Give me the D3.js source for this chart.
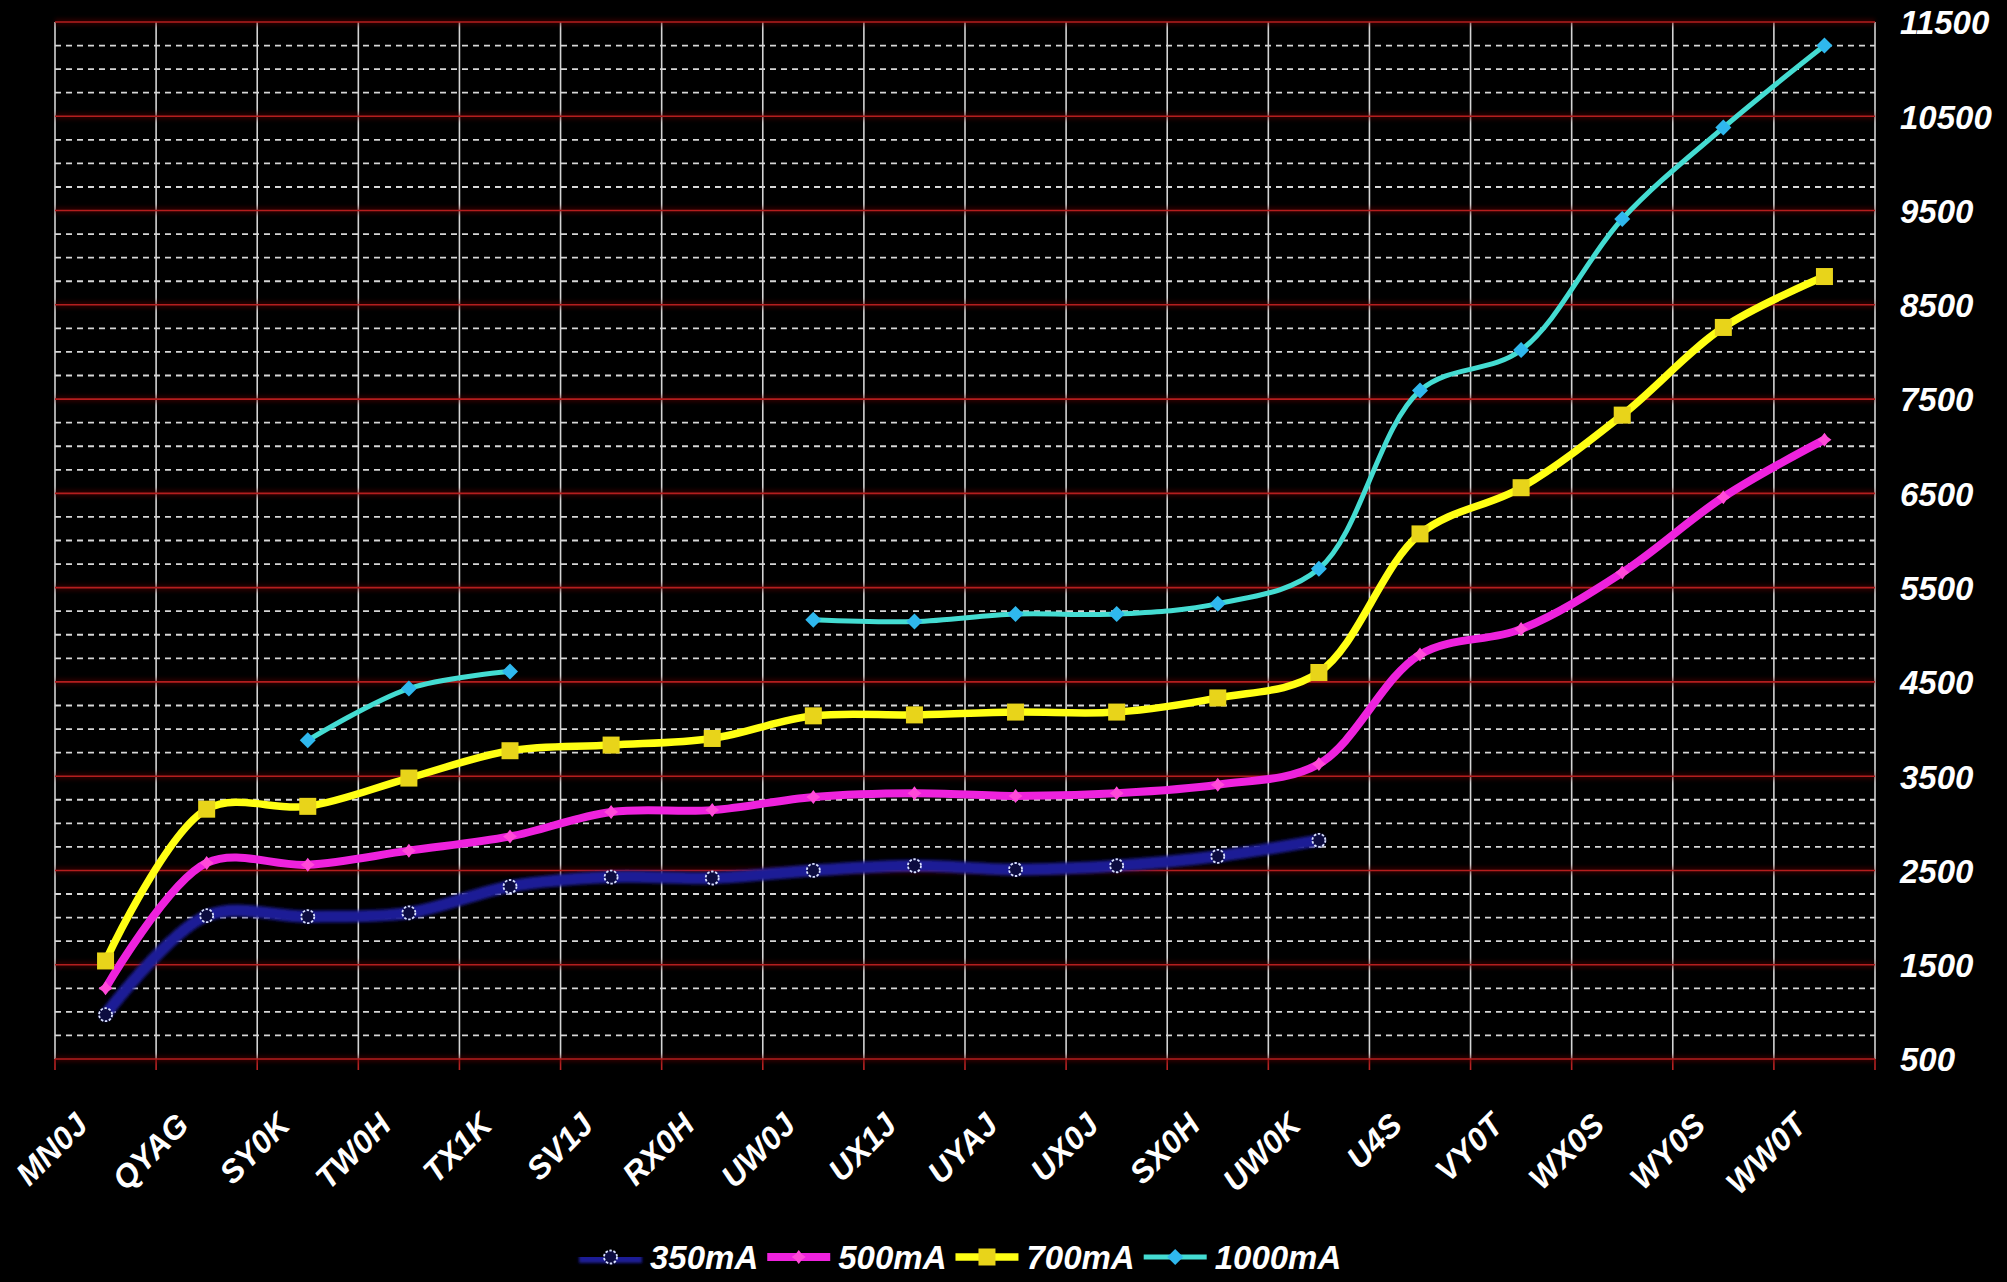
<!DOCTYPE html>
<html>
<head>
<meta charset="utf-8">
<script src="https://cdn.jsdelivr.net/npm/d3@7"></script>
<style>
  html, body { margin: 0; padding: 0; background: #000; }
  svg { display: block; }
  text { font-family: "Liberation Sans", Arial, sans-serif; font-weight: bold; font-style: italic; fill: #fff; }
</style>
</head>
<body>
<svg id="chart" width="2007" height="1282"></svg>
<script>
// Categories along the x axis
const categories = ["MN0J","QYAG","SY0K","TW0H","TX1K","SV1J","RX0H","UW0J","UX1J","UYAJ","UX0J","SX0H","UW0K","U4S","VY0T","WX0S","WY0S","WW0T"];

// Series values per category (null = no reading)
const ma350  = [970, 2020, 2010, 2050, 2330, 2430, 2420, 2500, 2550, 2510, 2550, 2650, 2820, null, null, null, null, null];
const ma500  = [1250, 2580, 2560, 2710, 2860, 3120, 3140, 3280, 3320, 3290, 3320, 3410, 3630, 4790, 5060, 5660, 6460, 7070];
const ma700  = [1540, 3150, 3180, 3480, 3770, 3830, 3900, 4140, 4150, 4180, 4180, 4330, 4600, 6070, 6560, 7330, 8260, 8800];
const ma1000 = [null, null, 3880, 4430, 4610, null, null, 5160, 5140, 5220, 5220, 5330, 5700, 7590, 8020, 9410, 10380, 11250];

const seriesNames = ["350mA", "500mA", "700mA", "1000mA"];

// Labelled y ticks and the minor dashed gridline values
const yTicks = [500, 1500, 2500, 3500, 4500, 5500, 6500, 7500, 8500, 9500, 10500, 11500];
const yMinor = d3.range(500, 11500, 250).filter(v => (v - 500) % 1000 !== 0);

const svg = d3.select("#chart");
const W = 2007, H = 1282;
svg.append("rect").attr("width", W).attr("height", H).attr("fill", "#000");

const plot = { left: 55, right: 1875, top: 22, bottom: 1059 };

const x = d3.scaleBand().domain(categories).range([plot.left, plot.right]).padding(0);
const y = d3.scaleLinear().domain([500, 11500]).range([plot.bottom, plot.top]);
const cx = c => x(c) + x.bandwidth() / 2;

// Blur filters in user space so that straight horizontal strokes are not clipped
const defs = svg.append("defs");
function blurFilter(id, sd) {
  defs.append("filter").attr("id", id)
    .attr("filterUnits", "userSpaceOnUse")
    .attr("x", 0).attr("y", 0).attr("width", W).attr("height", H)
    .append("feGaussianBlur").attr("stdDeviation", sd);
}
blurFilter("soft", 1.8);
blurFilter("halo", 2.2);

// Grid
const grid = svg.append("g");
grid.selectAll("line.minor").data(yMinor).join("line")
  .attr("class", "minor")
  .attr("x1", plot.left).attr("x2", plot.right)
  .attr("y1", d => y(d)).attr("y2", d => y(d))
  .attr("stroke", "#d6d6d6").attr("stroke-width", 1.8).attr("stroke-dasharray", "6,5");

const boundaries = categories.map(c => x(c)).concat([plot.right]);
grid.selectAll("line.vert").data(boundaries).join("line")
  .attr("class", "vert")
  .attr("x1", d => d).attr("x2", d => d)
  .attr("y1", plot.top).attr("y2", plot.bottom)
  .attr("stroke", "#d4d4d4").attr("stroke-width", 1.6);

// tick marks below the axis
grid.selectAll("line.tick").data(boundaries).join("line")
  .attr("class", "tick")
  .attr("x1", d => d).attr("x2", d => d)
  .attr("y1", plot.bottom).attr("y2", plot.bottom + 11)
  .attr("stroke", "#b82424").attr("stroke-width", 1.6);

grid.selectAll("line.majorHalo").data(yTicks).join("line")
  .attr("class", "majorHalo")
  .attr("x1", plot.left).attr("x2", plot.right)
  .attr("y1", d => y(d)).attr("y2", d => y(d))
  .attr("stroke", "#5a0000").attr("stroke-width", 6).attr("opacity", 0.5)
  .attr("filter", "url(#halo)");
grid.selectAll("line.major").data(yTicks).join("line")
  .attr("class", "major")
  .attr("x1", plot.left).attr("x2", plot.right)
  .attr("y1", d => y(d)).attr("y2", d => y(d))
  .attr("stroke", "#b41e1e").attr("stroke-width", 1.6);

// Right-hand value axis
const yAxis = d3.axisRight(y).tickValues(yTicks).tickSize(0).tickPadding(25).tickFormat(d3.format("d"));
const gy = svg.append("g").attr("transform", `translate(${plot.right},0)`).call(yAxis);
gy.select(".domain").remove();
gy.selectAll("text").attr("fill", "#fff").style("font-size", "33px").attr("dy", "0.36em");

// Category axis with slanted labels
const xAxis = d3.axisBottom(x).tickSize(0);
const gx = svg.append("g").attr("transform", `translate(0,${plot.bottom})`).call(xAxis);
gx.select(".domain").remove();
gx.selectAll("text")
  .attr("fill", "#fff").style("font-size", "32px")
  .attr("x", 0).attr("y", 0).attr("dy", null)
  .attr("text-anchor", "end")
  .attr("transform", "translate(-16,68) rotate(-45)");

// Series
const styles = [
  { values: ma350,  color: "#1a1a96", width: 12,  filter: "url(#soft)", marker: "hollow" },
  { values: ma500,  color: "#ee22dd", width: 8,   filter: null, marker: "plus" },
  { values: ma700,  color: "#ffff14", width: 7.5, filter: null, marker: "square" },
  { values: ma1000, color: "#44dcd2", width: 5,   filter: null, marker: "diamond" }
];

const line = d3.line()
  .defined(d => d.v != null)
  .x(d => cx(d.c))
  .y(d => y(d.v))
  .curve(d3.curveCatmullRom.alpha(0.5));

function drawMarker(g, kind) {
  if (kind === "hollow") {
    g.append("circle").attr("r", 6.5)
      .attr("fill", "#0c0c40").attr("stroke", "#d8e0ff").attr("stroke-width", 1.8)
      .attr("stroke-dasharray", "2.5,1.6");
  } else if (kind === "plus") {
    g.append("path").attr("d", "M0,-7 L3,-3 L7,0 L3,3 L0,7 L-3,3 L-7,0 L-3,-3 Z").attr("fill", "#ff4ad8");
  } else if (kind === "square") {
    g.append("rect").attr("x", -8.5).attr("y", -8.5).attr("width", 17).attr("height", 17).attr("fill", "#e8d41a");
  } else if (kind === "diamond") {
    g.append("path").attr("d", "M0,-8 L8,0 L0,8 L-8,0 Z").attr("fill", "#2fb8ee");
  }
}

styles.forEach(s => {
  const pts = categories.map((c, i) => ({ c, v: s.values[i] }));
  const g = svg.append("g");
  g.append("path").datum(pts)
    .attr("d", line)
    .attr("fill", "none")
    .attr("stroke", s.color)
    .attr("stroke-width", s.width)
    .attr("stroke-linejoin", "round")
    .attr("stroke-linecap", "round")
    .attr("filter", s.filter);
  g.selectAll("g.m").data(pts.filter(d => d.v != null)).join("g")
    .attr("class", "m")
    .attr("transform", d => `translate(${cx(d.c)},${y(d.v)})`)
    .each(function () { drawMarker(d3.select(this), s.marker); });
});

// Legend
const legend = svg.append("g").attr("transform", "translate(0,1257)");
let lx = 579;
styles.forEach((s, i) => {
  const item = legend.append("g");
  item.append("line").attr("x1", lx).attr("x2", lx + 63).attr("y1", 0).attr("y2", 0)
    .attr("stroke", s.color).attr("stroke-width", s.width).attr("filter", s.filter);
  const mk = item.append("g").attr("transform", `translate(${lx + 31.5},0)`);
  drawMarker(mk, s.marker);
  const t = item.append("text").attr("x", lx + 71).attr("y", 0).attr("dy", "0.36em")
    .style("font-size", "33px").text(seriesNames[i]);
  lx = lx + 71 + t.node().getComputedTextLength() + 9;
});
</script>
</body>
</html>
